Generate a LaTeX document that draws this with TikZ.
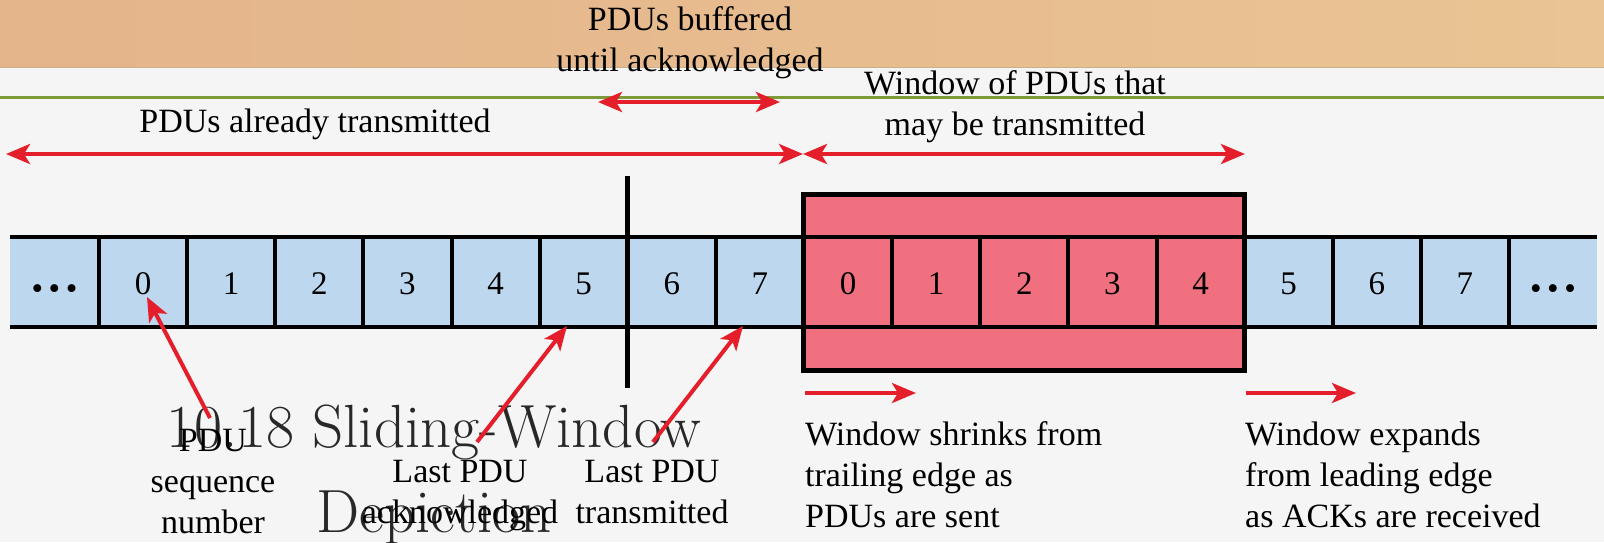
\documentclass[tikz,border=0pt]{standalone}
\usepackage{fontspec}
\newfontfamily\tnr{Liberation Serif}
\usetikzlibrary{arrows.meta}
\definecolor{cellblue}{RGB}{189,215,238}
\definecolor{winred}{RGB}{240,112,128}
\definecolor{arrred}{RGB}{228,30,43}
\definecolor{bggray}{RGB}{245,245,245}
\definecolor{woodL}{RGB}{228,180,138}
\definecolor{woodR}{RGB}{234,196,148}
\definecolor{woodedge}{RGB}{205,175,135}
\definecolor{greenline}{RGB}{125,155,55}
\definecolor{titlegray}{RGB}{40,40,40}
\begin{document}
\begin{tikzpicture}[x=1pt,y=-1pt,
  lbl/.style={font=\tnr\fontsize{34}{41}\selectfont, inner sep=0pt, align=center, anchor=base},
  lbll/.style={font=\tnr\fontsize{34}{41}\selectfont, inner sep=0pt, align=left, anchor=base west},
  digit/.style={font=\tnr\fontsize{33}{41}\selectfont, inner sep=0pt, anchor=base},
  redarr/.style={draw=arrred, line width=4pt, -{Stealth[length=24pt,width=20pt,inset=6pt]}},
  dblarr/.style={draw=arrred, line width=4pt, {Stealth[length=24pt,width=20pt,inset=6pt]}-{Stealth[length=24pt,width=20pt,inset=6pt]}},
  stripline/.style={draw=black, line width=4pt},
]
\useasboundingbox (0,0) rectangle (1604,542);
% background
\fill[bggray] (0,0) rectangle (1604,542);
\shade[left color=woodL, right color=woodR] (0,0) rectangle (1604,67);
\draw[woodedge, line width=1pt] (0,67) -- (1604,67);
\draw[greenline, line width=3pt] (0,97.5) -- (1604,97.5);
% title (behind); base anchor = last line
\node[font=\fontsize{61}{85}\selectfont, text=titlegray, inner sep=0pt, align=center, anchor=base] (title) at (434,532) {10.18 Sliding-Window\\Depiction};
% strip
\fill[cellblue] (10,237) rectangle (1597,327);
\filldraw[fill=winred, draw=black, line width=5pt] (803,194) rectangle (1244,370);
\draw[stripline] (10,237) -- (1597,237);
\draw[stripline] (10,327) -- (1597,327);
\foreach \i in {0,...,16} {
  \draw[stripline] ({99+88.125*\i},237) -- ({99+88.125*\i},327);
}
\foreach \lab [count=\k from 0] in {0,1,2,3,4,5,6,7,0,1,2,3,4,5,6,7} {
  \node[digit] (c\k) at ({99+88.125*(\k+0.5)},294) {\lab};
}
\node[digit] (dl) at (54.5,299) {•\,•\,•};
\node[digit] (dr) at (1553,299) {•\,•\,•};
% vertical bar
\draw[line width=5pt] (627,176) -- (627,388);
% top labels and arrows
\node[lbl] (buf) at (690,71) {PDUs buffered\\until acknowledged};
\node[lbl] (already) at (315,132) {PDUs already transmitted};
\node[lbl] (win) at (1015,135) {Window of PDUs that\\may be transmitted};
\coordinate (b1) at (598,102);
\coordinate (b2) at (780,102);
\coordinate (a1) at (6,154);
\coordinate (a2) at (803,154);
\coordinate (a3) at (1245,154);
\draw[dblarr] (b1) -- (b2);
\draw[dblarr] (a1) -- (a2);
\draw[dblarr] (a2) -- (a3);
% bottom labels
\node[lbl] (seq) at (213,533) {PDU\\sequence\\number};
\node[lbl] (ack) at (460,523) {Last PDU\\acknowledged};
\node[lbl] (trans) at (652,523) {Last PDU\\transmitted};
\node[lbll] (shrink) at (805,527) {Window shrinks from\\trailing edge as\\PDUs are sent};
\node[lbll] (expand) at (1245,527) {Window expands\\from leading edge\\as ACKs are received};
% pointer arrows
\coordinate (p0s) at (210,418);
\coordinate (p0t) at (147,297);
\coordinate (p1s) at (477,442);
\coordinate (p1t) at (567,326);
\coordinate (p2s) at (653,442);
\coordinate (p2t) at (743,326);
\draw[redarr] (p0s) -- (p0t);
\draw[redarr] (p1s) -- (p1t);
\draw[redarr] (p2s) -- (p2t);
% window motion arrows
\coordinate (m1s) at (805,393);
\coordinate (m1t) at (916,393);
\coordinate (m2s) at (1246,393);
\coordinate (m2t) at (1356,393);
\draw[redarr] (m1s) -- (m1t);
\draw[redarr] (m2s) -- (m2t);
\end{tikzpicture}
\end{document}
